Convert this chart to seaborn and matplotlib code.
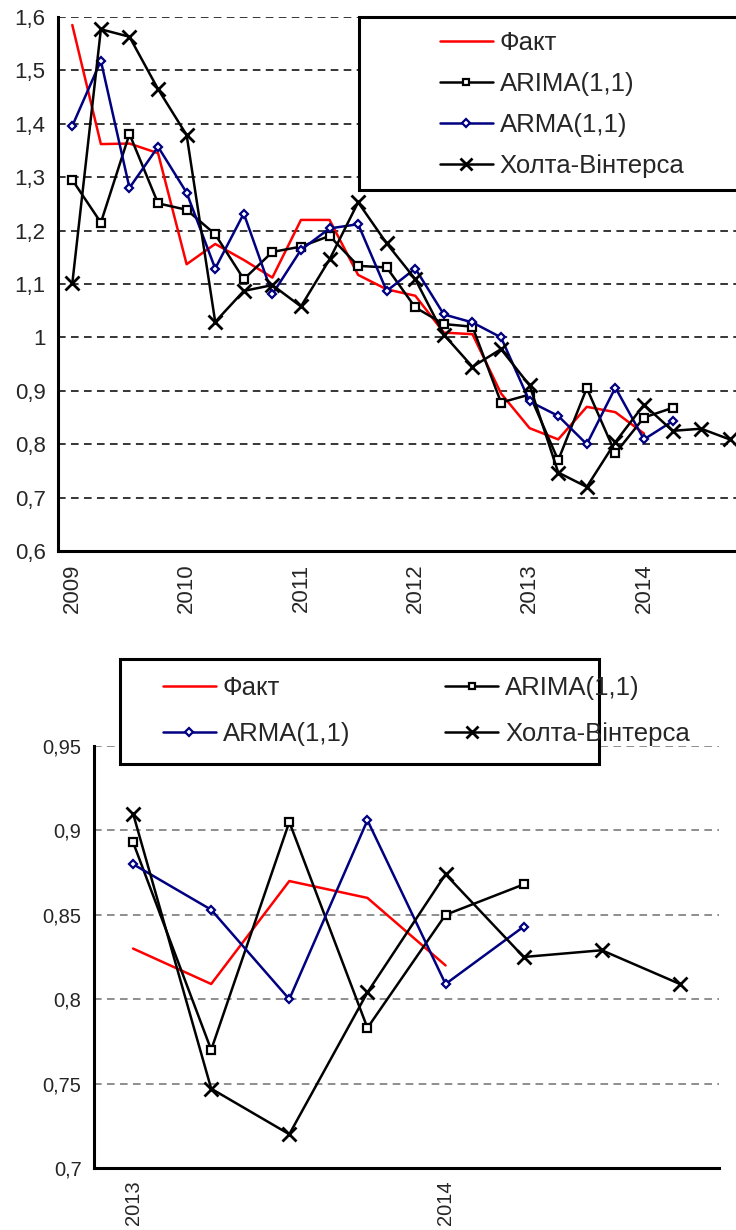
import matplotlib
matplotlib.use("Agg")
import matplotlib.pyplot as plt
from matplotlib.ticker import FixedLocator, FuncFormatter, NullFormatter, MultipleLocator
from matplotlib.patches import Rectangle
import seaborn as sns

# quarterly values, 2009 Q1 .. 2014 Q4
years = ["2009", "2010", "2011", "2012", "2013", "2014"]
fact = [1.585, 1.362, 1.363, 1.345, 1.137, 1.175, 1.145, 1.112, 1.22, 1.22, 1.117,
        1.09, 1.078, 1.009, 1.006, 0.895, 0.83, 0.809, 0.87, 0.86, 0.82]
arima = [1.295, 1.215, 1.381, 1.251, 1.239, 1.193, 1.109, 1.16, 1.17, 1.19, 1.134,
         1.131, 1.056, 1.025, 1.02, 0.878, 0.893, 0.77, 0.905, 0.783, 0.85, 0.868]
arma = [1.396, 1.518, 1.28, 1.357, 1.271, 1.129, 1.232, 1.081, 1.164, 1.204, 1.212,
        1.087, 1.129, 1.043, 1.028, 1.0, 0.88, 0.853, 0.80, 0.906, 0.809, 0.843]
holt = [1.101, 1.577, 1.563, 1.465, 1.379, 1.029, 1.087, 1.098, 1.058, 1.146, 1.253,
        1.176, 1.109, 1.005, 0.945, 0.978, 0.91, 0.747, 0.72, 0.804, 0.874, 0.825,
        0.829, 0.809]
n_quarters = 24

# zoomed chart: 2013 Q1 .. 2014 Q4
zoom_years = ["2013", "2014"]
zoom_start = 16
zoom_quarters = 8

names = ["Факт", "ARIMA(1,1)", "ARMA(1,1)", "Холта-Вінтерса"]
series = [fact, arima, arma, holt]
styles = [
    dict(color="#FF0000", lw=1.8),
    dict(color="black", lw=1.8, marker="s", ms=5.5, mfc="white", mec="black", mew=1.6),
    dict(color="#000080", lw=1.8, marker="D", ms=4.5, mfc="white", mec="#000080", mew=1.6),
    dict(color="black", lw=1.8, marker="x", ms=10, mec="black", mew=2),
]

sns.set_style("white")
plt.rcParams["font.family"] = ["Liberation Sans", "DejaVu Sans"]

W, H = 736, 1230
fig = plt.figure(figsize=(W / 100, H / 100), dpi=100)


def comma(v, pos):
    return f"{v:.2f}".rstrip("0").rstrip(".").replace(".", ",")


def style_axes(ax, n, labels, every, grid_color, tick_size, major_step):
    ax.set_xlim(-0.5, n - 0.5)
    ax.xaxis.set_major_locator(FixedLocator([b - 0.5 for b in range(0, n + 1, major_step)]))
    ax.xaxis.set_major_formatter(NullFormatter())
    ax.xaxis.set_minor_locator(FixedLocator([i * every for i in range(len(labels))]))
    ax.xaxis.set_minor_formatter(FuncFormatter(lambda v, p: labels[int(round(v / every))]))
    ax.tick_params(axis="x", which="major", direction="out", length=6, width=2, color="black")
    ax.tick_params(axis="x", which="minor", length=0, pad=9, labelsize=tick_size,
                   labelrotation=90)
    ax.tick_params(axis="y", direction="out", length=6, width=2, color="black",
                   labelsize=tick_size, pad=3)
    ax.yaxis.set_major_formatter(FuncFormatter(comma))
    ax.yaxis.grid(True, linestyle=(0, (5, 3.5)), color=grid_color, lw=1.1)
    ax.set_axisbelow(True)
    for side in ["top", "right"]:
        ax.spines[side].set_visible(False)
    for side in ["left", "bottom"]:
        ax.spines[side].set_linewidth(2.2)
        ax.spines[side].set_color("black")
    ax.set_xlabel("")
    ax.set_ylabel("")


# ---- top chart ----
ax1 = fig.add_axes([58 / W, 1 - 551 / H, 686 / W, 534 / H])
handles = []
for name, vals, st in zip(names, series, styles):
    sns.lineplot(x=list(range(len(vals))), y=vals, ax=ax1, label=name, legend=False, **st)
    handles.append(ax1.lines[-1])
ax1.set_ylim(0.6, 1.6)
ax1.yaxis.set_major_locator(MultipleLocator(0.1))
style_axes(ax1, n_quarters, years, 4, "black", 16, 4)

fig.patches.append(Rectangle((359 / W, 1 - 190 / H), 420 / W, 173 / H, transform=fig.transFigure,
                             facecolor="white", edgecolor="black", lw=2.2, zorder=4))
fig.legend(handles, names, loc="upper left", bbox_to_anchor=(427 / W, 1 - 18 / H),
           frameon=False, fontsize=18.5, borderpad=0, handlelength=2.06, handletextpad=0.27,
           labelspacing=0.67, markerscale=0.8)

# ---- bottom chart ----
ax2 = fig.add_axes([94 / W, 1 - 1168 / H, 625 / W, 422 / H])
handles2 = []
for name, vals, st in zip(names, series, styles):
    part = vals[zoom_start:]
    sns.lineplot(x=list(range(len(part))), y=part, ax=ax2, label=name, legend=False, **st)
    handles2.append(ax2.lines[-1])
ax2.set_ylim(0.7, 0.95)
ax2.yaxis.set_major_locator(MultipleLocator(0.05))
style_axes(ax2, zoom_quarters, zoom_years, 4, "#707070", 14.5, 1)

fig.patches.append(Rectangle((120 / W, 1 - 764 / H), 479 / W, 105 / H, transform=fig.transFigure,
                             facecolor="white", edgecolor="black", lw=2.2, zorder=4))
order = [0, 2, 1, 3]
fig.legend([handles2[i] for i in order], [names[i] for i in order], loc="upper left",
           bbox_to_anchor=(150 / W, 1 - 663 / H), ncol=2, frameon=False, fontsize=18.5,
           borderpad=0, handlelength=2.06, handletextpad=0.27, labelspacing=0.88,
           columnspacing=3.7, markerscale=0.8)

fig.savefig("out.png", dpi=100)
